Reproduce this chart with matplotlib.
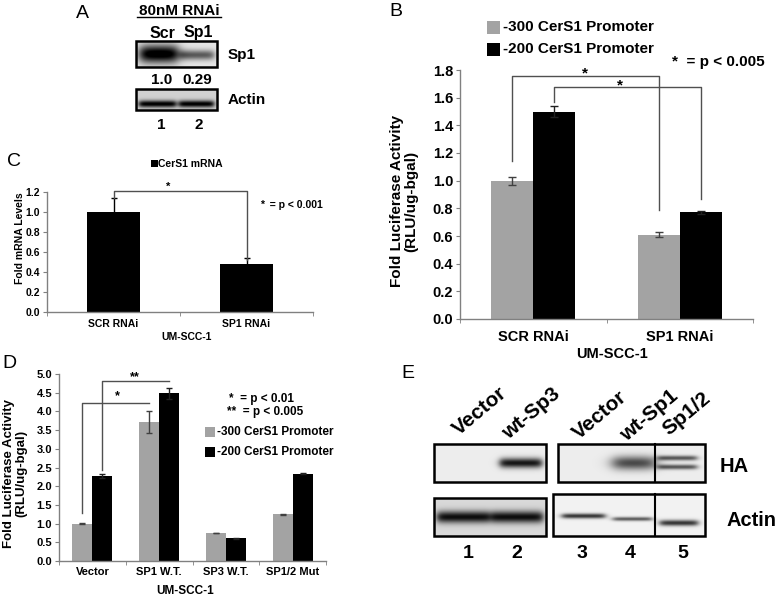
import matplotlib
matplotlib.use("Agg")
import matplotlib.pyplot as plt
import numpy as np
from matplotlib.patches import Rectangle

plt.rcParams['font.family'] = ['Liberation Sans', 'DejaVu Sans']
plt.rcParams['font.weight'] = 'bold'

W, H = 778, 596

# panel B - luciferase after RNAi
b_groups = ['SCR RNAi', 'SP1 RNAi']
b_300 = [1.00, 0.61]
b_300_err = [0.03, 0.02]
b_200 = [1.50, 0.77]
b_200_err = [0.04, 0.01]

# panel C - CerS1 mRNA
c_groups = ['SCR RNAi', 'SP1 RNAi']
c_mrna = [1.00, 0.48]
c_mrna_err = [0.14, 0.06]

# panel D - luciferase after overexpression
d_groups = ['Vector', 'SP1 W.T.', 'SP3 W.T.', 'SP1/2 Mut']
d_300 = [1.00, 3.71, 0.75, 1.25]
d_300_err = [0.02, 0.29, 0.01, 0.02]
d_200 = [2.27, 4.48, 0.61, 2.33]
d_200_err = [0.05, 0.15, 0.01, 0.01]

GRAY = '#a3a3a3'
AXC = '#808080'


def px_axes(x0, y0, x1, y1):
    ax = fig.add_axes([x0 / W, 1 - y1 / H, (x1 - x0) / W, (y1 - y0) / H])
    ax.set_facecolor('none')
    return ax


def excel_style(ax, labels, ymax, step, fs, xpad):
    n = len(labels)
    for s in ['top', 'right']:
        ax.spines[s].set_visible(False)
    for s in ['left', 'bottom']:
        ax.spines[s].set_color(AXC)
        ax.spines[s].set_linewidth(1)
    ax.set_xlim(-0.5, n - 0.5)
    ax.set_ylim(0, ymax)
    ax.set_xticks(range(n))
    ax.set_xticklabels(labels, fontsize=fs)
    ax.set_xticks(np.arange(n + 1) - 0.5, minor=True)
    ax.tick_params(axis='x', which='major', length=0, pad=xpad)
    ax.tick_params(axis='x', which='minor', length=3, color=AXC)
    ticks = np.arange(0, ymax + step / 2, step)
    ax.set_yticks(ticks)
    ax.set_yticklabels(['%.1f' % t for t in ticks], fontsize=fs)
    ax.tick_params(axis='y', length=3, color=AXC, pad=2)


def bracket(ax, xs, ys):
    ax.plot(xs, ys, color='#505050', lw=1, clip_on=False)


def errs(ax, x, vals, err, color, cap):
    ax.errorbar(x, vals, yerr=err, fmt='none', ecolor=color,
                elinewidth=1, capsize=cap, capthick=1)


def blot(ov, x0, y0, x1, y1, bands, bg, dividers=()):
    xs = np.linspace(x0, x1, int((x1 - x0) * 3))
    ys = np.linspace(y0, y1, int((y1 - y0) * 3))
    X, Y = np.meshgrid(xs, ys)
    img = np.full(X.shape, bg)
    for xl, xr, yc, hh, dark, soft in bands:
        sx = 1 / (1 + np.exp(-(X - xl) / soft)) / (1 + np.exp((X - xr) / soft))
        sy = np.exp(-((Y - yc) / hh) ** 2)
        img = img - dark * sx * sy
    img = np.clip(img, 0, 1)
    ov.imshow(img, cmap='gray', vmin=0, vmax=1, extent=[x0, x1, y1, y0],
              aspect='auto', interpolation='bilinear', zorder=1)
    ov.add_patch(Rectangle((x0, y0), x1 - x0, y1 - y0, fill=False,
                           edgecolor='black', lw=1.8, zorder=2))
    for xd in dividers:
        ov.plot([xd, xd], [y0, y1], color='black', lw=1.5, zorder=2)


fig = plt.figure(figsize=(W / 100, H / 100), dpi=100)

ov = fig.add_axes([0, 0, 1, 1])
ov.axis('off')

# ---------------- Panel A ----------------
ov.text(82, 13, 'A', fontsize=14, fontweight='normal', ha='center', va='center')
ov.text(179, 11, '80nM RNAi', fontsize=11, ha='center', va='center')
ov.plot([137, 221], [17, 17], color='black', lw=1)
ov.text(162, 33, 'Scr', fontsize=11.5, ha='center', va='center')
ov.text(198, 33, 'Sp1', fontsize=11.5, ha='center', va='center')
blot(ov, 136, 41, 217, 67,
     [(140, 178, 54, 9, 1.0, 3), (180, 214, 55, 5, 0.55, 2)], 0.9)
ov.text(228, 55, 'Sp1', fontsize=11, ha='left', va='center')
ov.text(162, 80, '1.0', fontsize=11, ha='center', va='center')
ov.text(197, 80, '0.29', fontsize=11, ha='center', va='center')
blot(ov, 136, 89, 217, 110,
     [(139, 176, 104, 3.5, 0.85, 1.5), (179, 214, 104, 3.5, 0.85, 1.5)], 0.82)
ov.text(228, 100, 'Actin', fontsize=11, ha='left', va='center')
ov.text(161, 125, '1', fontsize=11, ha='center', va='center')
ov.text(199, 125, '2', fontsize=11, ha='center', va='center')

# ---------------- Panel B ----------------
ov.text(396, 12, 'B', fontsize=14, fontweight='normal', ha='center', va='center')
axb = px_axes(460, 70, 753, 319)
xb = np.arange(len(b_groups))
wb = 0.287
axb.bar(xb - wb / 2, b_300, wb, color=GRAY)
axb.bar(xb + wb / 2, b_200, wb, color='black')
errs(axb, xb - wb / 2, b_300, b_300_err, '#404040', 3)
errs(axb, xb + wb / 2, b_200, b_200_err, '#202020', 3)
excel_style(axb, b_groups, 1.8, 0.2, 10.5, 8)
bracket(axb, [-wb / 2, -wb / 2, 1 - wb / 2, 1 - wb / 2], [1.14, 1.757, 1.757, 0.79])
bracket(axb, [wb / 2, wb / 2, 1 + wb / 2, 1 + wb / 2], [1.57, 1.68, 1.68, 0.87])
axb.text(0.355, 1.775, '*', fontsize=11, ha='center', va='center')
axb.text(0.59, 1.69, '*', fontsize=11, ha='center', va='center')
ov.text(404, 201, 'Fold Luciferase Activity\n(RLU/ug-bgal)', fontsize=11,
        rotation=90, ha='center', va='center', multialignment='center', linespacing=1.05)
ov.text(612, 354, 'UM-SCC-1', fontsize=10.5, ha='center', va='center')
ov.add_patch(Rectangle((487, 21), 13, 13, facecolor=GRAY, edgecolor='none'))
ov.add_patch(Rectangle((487, 43), 13, 13, facecolor='black', edgecolor='none'))
ov.text(503, 27, '-300 CerS1 Promoter', fontsize=11, ha='left', va='center')
ov.text(503, 49, '-200 CerS1 Promoter', fontsize=11, ha='left', va='center')
ov.text(718, 62, '*  = p < 0.005', fontsize=11, ha='center', va='center')

# ---------------- Panel C ----------------
ov.text(14, 162, 'C', fontsize=14, fontweight='normal', ha='center', va='center')
axc = px_axes(47, 192, 313, 312)
xc = np.arange(len(c_groups))
axc.bar(xc, c_mrna, 0.4, color='black')
errs(axc, xc, c_mrna, c_mrna_err, 'black', 2.5)
excel_style(axc, c_groups, 1.2, 0.2, 7.5, 5)
bracket(axc, [0, 0, 1, 1], [1.14, 1.21, 1.21, 0.52])
axc.text(0.41, 1.25, '*', fontsize=8, ha='center', va='center')
ov.text(20, 238, 'Fold mRNA Levels', fontsize=7.5, rotation=90, ha='center', va='center')
ov.text(187, 337, 'UM-SCC-1', fontsize=7.5, ha='center', va='center')
ov.add_patch(Rectangle((151, 160), 7, 7, facecolor='black', edgecolor='none'))
ov.text(158, 164, 'CerS1 mRNA', fontsize=7.5, ha='left', va='center')
ov.text(291, 205, '*  = p < 0.001', fontsize=7.5, ha='center', va='center')

# ---------------- Panel D ----------------
ov.text(9, 363, 'D', fontsize=14, fontweight='normal', ha='center', va='center')
axd = px_axes(59, 374, 326, 561)
xd = np.arange(len(d_groups))
wd = 0.3
axd.bar(xd - wd / 2, d_300, wd, color=GRAY)
axd.bar(xd + wd / 2, d_200, wd, color='black')
errs(axd, xd - wd / 2, d_300, d_300_err, '#404040', 2.5)
errs(axd, xd + wd / 2, d_200, d_200_err, '#202020', 2.5)
excel_style(axd, d_groups, 5.0, 0.5, 8, 4)
bracket(axd, [-wd / 2, -wd / 2, 1 - wd / 2], [1.28, 4.23, 4.23])
bracket(axd, [wd / 2, wd / 2, 1 + wd / 2], [2.42, 4.81, 4.81])
axd.text(0.38, 4.40, '*', fontsize=9, ha='center', va='center')
axd.text(0.64, 4.92, '**', fontsize=9, ha='center', va='center')
ov.text(15, 473, 'Fold Luciferase Activity\n(RLU/ug-bgal)', fontsize=9.5,
        rotation=90, ha='center', va='center', multialignment='center', linespacing=1.05)
ov.text(185, 591, 'UM-SCC-1', fontsize=8.5, ha='center', va='center')
ov.text(262, 399, '*  = p < 0.01', fontsize=8.5, ha='center', va='center')
ov.text(265, 412, '**  = p < 0.005', fontsize=8.5, ha='center', va='center')
ov.add_patch(Rectangle((205, 427), 10, 10, facecolor=GRAY, edgecolor='none'))
ov.add_patch(Rectangle((205, 447), 10, 10, facecolor='black', edgecolor='none'))
ov.text(217, 432, '-300 CerS1 Promoter', fontsize=8.5, ha='left', va='center')
ov.text(217, 452, '-200 CerS1 Promoter', fontsize=8.5, ha='left', va='center')

# ---------------- Panel E ----------------
ov.text(408, 373, 'E', fontsize=14, fontweight='normal', ha='center', va='center')
for txt, x, y in [('Vector', 459, 436), ('wt-Sp3', 508, 440), ('Vector', 579, 440),
                  ('wt-Sp1', 626, 442), ('Sp1/2', 669, 436)]:
    ov.text(x, y, txt, fontsize=15, rotation=40, rotation_mode='anchor',
            ha='left', va='baseline')
blot(ov, 434, 444, 546, 482, [(500, 542, 463, 5, 0.85, 2)], 0.93)
blot(ov, 558, 444, 705, 482,
     [(613, 655, 463, 7, 0.65, 4), (658, 697, 458, 2.5, 0.6, 2),
      (658, 697, 467, 2.5, 0.6, 2)], 0.93, dividers=[655])
blot(ov, 434, 498, 546, 536,
     [(437, 490, 517, 6, 0.8, 2), (491, 543, 517, 6, 0.8, 2)], 0.85)
blot(ov, 553, 494, 705, 536,
     [(562, 605, 516, 2.5, 0.75, 2), (613, 652, 519, 2, 0.6, 2),
      (660, 698, 523, 3, 0.75, 2)], 0.95, dividers=[655])
ov.text(720, 467, 'HA', fontsize=14.5, ha='left', va='center')
ov.text(727, 520, 'Actin', fontsize=14.5, ha='left', va='center')
for lab, x in zip(['1', '2', '3', '4', '5'], [468, 517, 582, 630, 683]):
    ov.text(x, 553, lab, fontsize=14, ha='center', va='center')

ov.set_xlim(0, W)
ov.set_ylim(H, 0)

fig.savefig('out.png', dpi=100)
